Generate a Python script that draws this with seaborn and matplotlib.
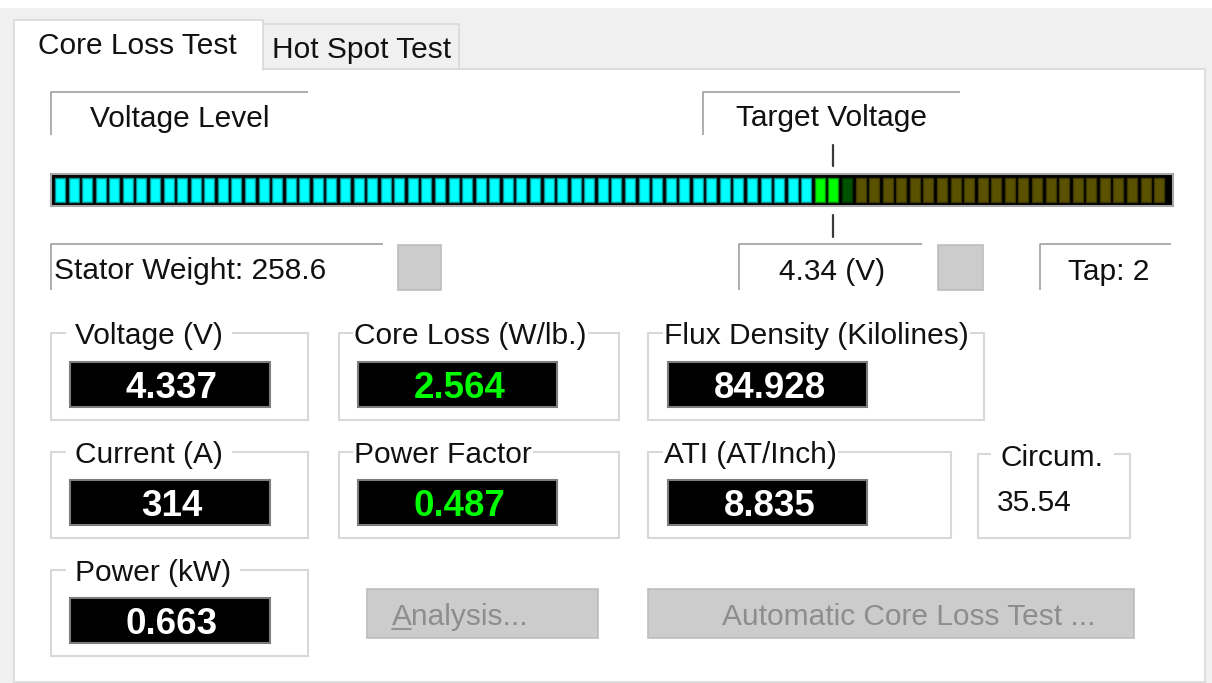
import matplotlib
matplotlib.use("Agg")
import matplotlib.pyplot as plt
import matplotlib.patches as mpatches
from matplotlib.transforms import blended_transform_factory
import seaborn as sns

# ---- data ----
n_lit = 56        # cyan segments (below target)
n_target = 2      # bright green segments (at target)
n_near = 1        # dark green segment
n_off = 23        # unlit olive segments
target_segment = 57

tab_names = ["Core Loss Test", "Hot Spot Test"]
stator_weight = "258.6"
target_voltage = "4.34"
tap = "2"

reading_labels = ["Voltage (V)", "Core Loss (W/lb.)", "Flux Density (Kilolines)",
                  "Current (A)", "Power Factor", "ATI (AT/Inch)", "Power (kW)"]
reading_values = ["4.337", "2.564", "84.928", "314", "0.487", "8.835", "0.663"]
reading_colors = ["white", "#00ff00", "white", "white", "#00ff00", "white", "white"]
circum_value = "35.54"

led_states = ["lit"] * n_lit + ["target"] * n_target + ["near"] * n_near + ["off"] * n_off
state_fill = {"lit": "#00ffff", "target": "#00ff00", "near": "#005200", "off": "#5a5200"}
state_edge = {"lit": "#0a8c8c", "target": "#0a8a0a", "near": "#003300", "off": "#3c3600"}

# ---- figure / helpers ----
sns.set_theme(style="white")
plt.rcParams["font.family"] = ["Liberation Sans", "DejaVu Sans"]

W, H = 1212, 683
FS = 21.5
VFS = 26.5
TXT = "#111111"

fig = plt.figure(figsize=(W / 100, H / 100), dpi=100)
fig.patch.set_facecolor("#f0f0f0")
ax = fig.add_axes([0, 0, 1, 1])
ax.set_xlim(0, W)
ax.set_ylim(H, 0)
ax.axis("off")


def rect(x0, y0, x1, y1, **kw):
    ax.add_patch(mpatches.Rectangle((x0, y0), x1 - x0, y1 - y0, **kw))


def label_box(x0, y0, x1, y1):
    ax.plot([x0, x0, x1], [y1, y0, y0], color="#a0a0a0", lw=1.2, solid_capstyle="butt")


# window background / tab panel
rect(0, 0, W, 8, fc="white", ec="none")
rect(14, 69, 1205, 682, fc="white", ec="#d9d9d9", lw=1.2)
rect(263, 24, 459, 69, fc="#f0f0f0", ec="#d9d9d9", lw=1.2)
rect(14, 20, 263, 71, fc="white", ec="none")
ax.plot([14, 14, 263, 263], [70, 20, 20, 70], color="#d9d9d9", lw=1.2)
ax.text(38, 54, tab_names[0], fontsize=FS, color=TXT, va="baseline")
ax.text(272, 58, tab_names[1], fontsize=FS, color=TXT, va="baseline")

# header labels
label_box(51, 92, 308, 135)
ax.text(90, 127, "Voltage Level", fontsize=FS, color=TXT, va="baseline")
label_box(703, 92, 960, 135)
ax.text(736, 126, "Target Voltage", fontsize=FS, color=TXT, va="baseline")

# LED voltage bar
ax_bar = fig.add_axes([51 / W, 1 - 206 / H, 1122 / W, 32 / H])
seg_idx = list(range(len(led_states)))
sns.barplot(x=seg_idx, y=[1] * len(seg_idx), hue=seg_idx,
            palette=[state_fill[s] for s in led_states], saturation=1, width=0.737,
            legend=False, ax=ax_bar, linewidth=1.0)
for p, s in zip(sorted(ax_bar.patches, key=lambda b: b.get_x()), led_states):
    p.set_edgecolor(state_edge[s])
ax_bar.set_xlim(-0.663, 82.02)
ax_bar.set_ylim(-1 / 6, 7 / 6)
ax_bar.set_facecolor("black")
ax_bar.set_xticks([])
ax_bar.set_yticks([])
ax_bar.set_xlabel("")
ax_bar.set_ylabel("")
for sp in ax_bar.spines.values():
    sp.set_color("#a8a8a8")
    sp.set_linewidth(1.5)

# target marker ticks above / below the bar
tr = blended_transform_factory(ax_bar.transData, ax.transData)
for y0, y1 in [(145, 166), (215, 237)]:
    ax.plot([target_segment, target_segment], [y0, y1], color="#3a3a3a", lw=1.6,
            transform=tr, clip_on=False)

# second row
label_box(51, 244, 383, 290)
ax.text(54, 279, f"Stator Weight: {stator_weight}", fontsize=FS, color=TXT, va="baseline")
rect(398, 245, 441, 290, fc="#cccccc", ec="#bdbdbd", lw=1.2)
label_box(739, 244, 922, 290)
ax.text(832, 280, f"{target_voltage} (V)", fontsize=FS, color=TXT, va="baseline", ha="center")
rect(938, 245, 983, 290, fc="#cccccc", ec="#bdbdbd", lw=1.2)
label_box(1040, 244, 1171, 290)
ax.text(1068, 280, f"Tap: {tap}", fontsize=FS, color=TXT, va="baseline")

# group boxes with black readouts
cols = [(51, 308, 70, 270, 75, 0.3), (339, 619, 358, 557, 354, 0.05), (648, 984, 668, 867, 664, 0.05)]
rows = [(333, 420, 362, 407, 344, 398), (452, 538, 480, 525, 463, 516), (570, 656, 598, 643, 581, 634)]
cells = [(0, 0), (0, 1), (0, 2), (1, 0), (1, 1), (1, 2), (2, 0)]
for (r, c), lab, val, vc in zip(cells, reading_labels, reading_values, reading_colors):
    fx0, fx1, dx0, dx1, lx, pad = cols[c]
    fy0, fy1, dy0, dy1, lb, vb = rows[r]
    if (r, c) == (1, 2):
        fx1 = 951
    rect(fx0, fy0, fx1, fy1, fc="none", ec="#d8d8d8", lw=1.5)
    ax.text(lx, lb, lab, fontsize=FS, color=TXT, va="baseline",
            bbox=dict(boxstyle=f"square,pad={pad}", fc="white", ec="none"))
    rect(dx0, dy0, dx1, dy1, fc="black", ec="#7c7c7c", lw=1.5)
    ax.text((dx0 + dx1) / 2 + 2, vb, val, fontsize=VFS, fontweight="bold", color=vc,
            va="baseline", ha="center")

# circumference box
rect(978, 454, 1130, 538, fc="none", ec="#d8d8d8", lw=1.5)
ax.text(1001, 466, "Circum.", fontsize=FS, color=TXT, va="baseline",
        bbox=dict(boxstyle="square,pad=0.35", fc="white", ec="none"))
ax.text(997, 511, circum_value, fontsize=FS, color=TXT, va="baseline")

# disabled buttons
rect(367, 589, 598, 638, fc="#cccccc", ec="#bdbdbd", lw=1.2)
ax.text(392, 625, "Analysis...", fontsize=FS, color="#8d8d8d", va="baseline")
ax.plot([392, 411], [629, 629], color="#8d8d8d", lw=1.3)
rect(648, 589, 1134, 638, fc="#cccccc", ec="#bdbdbd", lw=1.2)
ax.text(722, 625, "Automatic Core Loss Test ...", fontsize=FS, color="#8d8d8d", va="baseline")

fig.savefig("out.png", dpi=100, facecolor=fig.get_facecolor())
